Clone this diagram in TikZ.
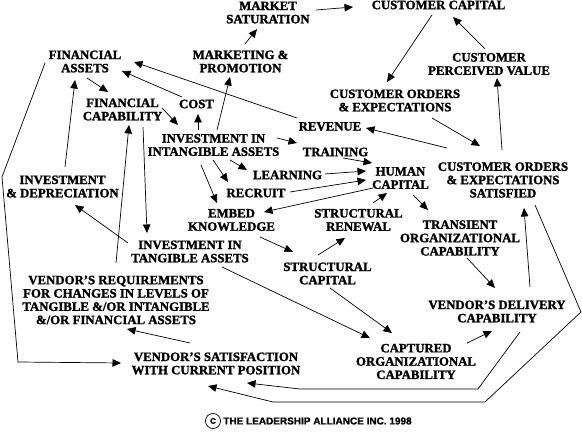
\documentclass[tikz,border=0pt]{standalone}
\usepackage{fontspec}
\setmainfont[BoldFeatures={FakeBold=1.6}]{Liberation Serif}
\setsansfont[BoldFeatures={FakeBold=1.2}]{Liberation Sans}
\usetikzlibrary{arrows.meta}
\begin{document}
\begin{tikzpicture}[x=1pt,y=-1pt,
  lbl/.style={font=\bfseries\fontsize{12.8}{13.3}\selectfont, align=center, inner sep=0pt},
  arr/.style={line width=0.7pt, -{Triangle[length=8.5pt,width=7.5pt]}}
  ]
\useasboundingbox (0,0) rectangle (582,435);
% nodes
\node[lbl] (mkt) at (268,12.5) {MARKET\\SATURATION};
\node[lbl] (cc) at (438.5,5) {CUSTOMER CAPITAL};
\node[lbl] (cpv) at (489,64) {CUSTOMER\\PERCEIVED VALUE};
\node[lbl] (fa) at (85,61.5) {FINANCIAL\\ASSETS};
\node[lbl] (mp) at (240.5,61.5) {MARKETING \&\\PROMOTION};
\node[lbl] (coe) at (395,100.5) {CUSTOMER ORDERS\\\& EXPECTATIONS};
\node[lbl] (fc) at (122.5,109.5) {FINANCIAL\\CAPABILITY};
\node[lbl] (cost) at (196.5,104) {COST};
\node[lbl] (rev) at (330,126.5) {REVENUE};
\node[lbl] (iia) at (213.5,145) {INVESTMENT IN\\INTANGIBLE ASSETS};
\node[lbl] (train) at (335.5,152) {TRAINING};
\node[lbl] (learn) at (287.5,175) {LEARNING};
\node[lbl] (recruit) at (256,193) {RECRUIT};
\node[lbl] (hc) at (400.5,178) {HUMAN\\CAPITAL};
\node[lbl] (coes) at (503,180) {CUSTOMER ORDERS\\\& EXPECTATIONS\\SATISFIED};
\node[lbl] (idep) at (62.5,186.5) {INVESTMENT\\\& DEPRECIATION};
\node[lbl] (ek) at (231.5,220) {EMBED\\KNOWLEDGE};
\node[lbl] (sr) at (358.5,220) {STRUCTURAL\\RENEWAL};
\node[lbl] (toc) at (460,238) {TRANSIENT\\ORGANIZATIONAL\\CAPABILITY};
\node[lbl] (ita) at (190,251.5) {INVESTMENT IN\\TANGIBLE ASSETS};
\node[lbl] (sc) at (327.5,273.5) {STRUCTURAL\\CAPITAL};
\node[lbl] (vreq) at (116,300) {VENDOR'S REQUIREMENTS\\FOR CHANGES IN LEVELS OF\\TANGIBLE \&/OR INTANGIBLE\\\&/OR FINANCIAL ASSETS};
\node[lbl] (vdc) at (497,311.5) {VENDOR'S DELIVERY\\CAPABILITY};
\node[lbl] (vsat) at (216,363.5) {VENDOR'S SATISFACTION\\WITH CURRENT POSITION};
\node[lbl] (coc) at (416,361.5) {CAPTURED\\ORGANIZATIONAL\\CAPABILITY};
\node[circle, draw, line width=0.7pt, minimum size=15pt, inner sep=0pt, font=\sffamily\bfseries\fontsize{8}{8}\selectfont] (copy) at (213,421) {C};
\node[inner sep=0pt, font=\sffamily\bfseries\fontsize{10}{10}\selectfont] (copytext) at (317.5,421) {THE LEADERSHIP ALLIANCE INC. 1998};
% connectors
\draw[arr] ([shift={(48,-2.5)}]mkt.center) -- ([shift={(-85.5,2)}]cc.center);
\draw[arr] ([shift={(4.5,-17.5)}]mp.center) -- ([shift={(-11,16.5)}]mkt.center);
\draw[arr] ([shift={(-6.5,10)}]cc.center) -- ([shift={(-8,-18.5)}]coe.center);
\draw[arr] ([shift={(-4,-15)}]cpv.center) -- ([shift={(14.5,12)}]cc.center);
\draw[arr] ([shift={(-1,-30)}]coes.center) -- ([shift={(8,14)}]cpv.center);
\draw[arr] ([shift={(37,17.5)}]coe.center) -- ([shift={(-23,-34)}]coes.center);
\draw[arr] ([shift={(-56,-32)}]coes.center) -- ([shift={(36,1.5)}]rev.center);
\draw[arr] ([shift={(-33,-8.5)}]rev.center) -- ([shift={(49,0.5)}]fa.center);
\draw[arr] ([shift={(-14.5,-7)}]cost.center) -- ([shift={(37,9.5)}]fa.center);
\draw[arr] ([shift={(2,16.5)}]fa.center) -- ([shift={(-14.5,-17.5)}]fc.center);
\draw[arr] ([shift={(39.5,-1.5)}]fc.center) -- ([shift={(-35.5,-20)}]iia.center);
\draw[arr] ([shift={(-15.5,-15)}]iia.center) -- ([shift={(1.5,10)}]cost.center);
\draw[arr] ([shift={(3.5,-15)}]iia.center) -- ([shift={(-10.5,15.5)}]mp.center);
\draw[arr] ([shift={(63.5,-7)}]iia.center) -- ([shift={(-38.5,-9)}]train.center);
\draw[arr] ([shift={(16.5,15)}]iia.center) -- ([shift={(-40.5,-5)}]learn.center);
\draw[arr] ([shift={(-0.5,15)}]iia.center) -- ([shift={(-28,-11)}]recruit.center);
\draw[arr] ([shift={(-12.5,20)}]iia.center) -- ([shift={(-14.5,-17)}]ek.center);
\draw[arr] ([shift={(7.5,6)}]train.center) -- ([shift={(-28.5,-15)}]hc.center);
\draw[arr] ([shift={(37.5,-1)}]learn.center) -- ([shift={(-34.5,-7)}]hc.center);
\draw[arr] ([shift={(34,-1)}]recruit.center) -- ([shift={(-34.5,2)}]hc.center);
\draw[arr] ([shift={(-27.5,10)}]hc.center) -- ([shift={(32.5,-8)}]ek.center);
\draw[arr] ([shift={(14.5,-17)}]sr.center) -- ([shift={(-13.5,15)}]hc.center);
\draw[arr] ([shift={(-9.5,-18.5)}]sc.center) -- ([shift={(-13.5,18)}]sr.center);
\draw[arr] ([shift={(28.5,17)}]ek.center) -- ([shift={(-34.5,-21.5)}]sc.center);
\draw[arr] ([shift={(12.5,17)}]hc.center) -- ([shift={(-32,-28)}]toc.center);
\draw[arr] ([shift={(7,20)}]toc.center) -- ([shift={(-2,-23.5)}]vdc.center);
\draw[arr] ([shift={(33,-24.5)}]vdc.center) -- ([shift={(21,28)}]coes.center);
\draw[arr] ([shift={(32,25)}]coes.center) -- (581,312) -- (485,402) -- (273,402) -- ([shift={(-8,22.5)}]vsat.center);
\draw[arr] ([shift={(23,20.5)}]vdc.center) -- (478,389) -- (300,389) -- ([shift={(31,19.5)}]vsat.center);
\draw[arr] ([shift={(-26,-20.5)}]vsat.center) -- ([shift={(11,29)}]vreq.center);
\draw[arr] ([shift={(0,-37)}]vreq.center) -- ([shift={(6.5,15.5)}]fc.center);
\draw[arr] ([shift={(20.5,17.5)}]fc.center) -- ([shift={(-43,-18.5)}]ita.center);
\draw[arr] ([shift={(-62,-8.5)}]ita.center) -- ([shift={(12.5,18.5)}]idep.center);
\draw[arr] ([shift={(2.5,-19.5)}]idep.center) -- ([shift={(-10,18.5)}]fa.center);
\draw[arr] ([shift={(-40,1.5)}]fa.center) -- (2,177) -- (18,362) -- ([shift={(-95,-0.5)}]vsat.center);
\draw[arr] ([shift={(32,15.5)}]ita.center) -- ([shift={(-46,-23.5)}]coc.center);
\draw[arr] ([shift={(2.5,14.5)}]sc.center) -- ([shift={(-24,-28.5)}]coc.center);
\draw[arr] ([shift={(51,-18.5)}]coc.center) -- ([shift={(-5,19.5)}]vdc.center);
\end{tikzpicture}
\end{document}
